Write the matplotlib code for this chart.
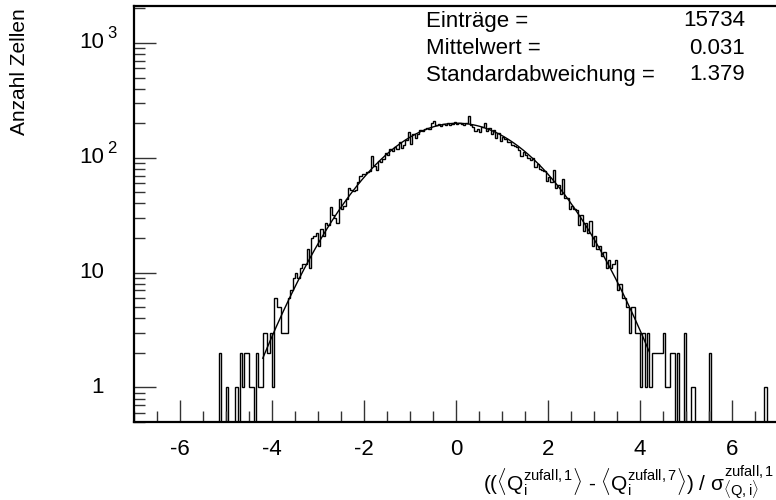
import numpy as np
import matplotlib.pyplot as plt
from matplotlib.ticker import LogLocator, MultipleLocator, NullFormatter
import matplotlib.transforms as mtransforms

plt.rcParams['font.family'] = ['Liberation Sans', 'DejaVu Sans']
plt.rcParams['mathtext.fontset'] = 'custom'
plt.rcParams['mathtext.rm'] = 'Liberation Sans'
plt.rcParams['mathtext.it'] = 'Liberation Sans'
plt.rcParams['mathtext.sf'] = 'Liberation Sans'
plt.rcParams['axes.unicode_minus'] = False

# histogram binning (0.05 wide bins, nothing filled left of -5.25)
bin_width = 0.05
first_edge = -5.25
x_range = (-7.0, 7.0)

# counts, bin by bin
tail_left = [0, 0, 2, 0, 0, 1, 0, 0, 0, 1, 0, 2, 1, 2, 2, 1, 1, 0, 2, 1,
             1, 3, 3, 2, 3, 1, 6, 5, 5, 3, 3, 3, 6]                 # -5.25 .. -3.65
core_left = [7, 9, 10, 9, 11, 12, 12, 16, 11, 20, 21, 22, 17, 24, 21, 27,
             26, 37, 32, 30, 27, 44, 36, 38, 44, 55, 52, 51, 52, 62, 70, 73,
             72, 75, 77, 104, 85, 78, 94, 92, 97, 111, 105, 119, 115, 125, 119, 136,
             122, 130, 143, 167, 132, 160, 150, 162, 175, 170, 178, 182, 180, 203,
             210, 192, 198, 190, 197, 195, 200, 192, 197, 205]          # -3.60 .. -0.05
core_right = [196, 203, 198, 194, 201, 232, 193, 185, 172, 180, 168, 187, 199, 170,
              183, 160, 176, 148, 165, 140, 152, 146, 138, 137, 130, 128, 123, 116,
              104, 112, 105, 100, 96, 100, 84, 88, 80, 78, 76, 63, 68, 61, 78, 55,
              58, 48, 66, 45, 45, 36, 38, 36, 35, 26, 32, 23, 27, 22, 28, 17, 21, 16,
              17, 14, 15, 11, 13, 11, 12, 13, 7, 8, 6, 6, 5, 3, 5, 5, 3, 3]   # 0.00 .. 3.95
tail_right = [1, 3, 1, 3, 1, 2, 2, 2, 2, 2, 3, 1, 1, 2, 2, 0, 2, 0, 0, 3,
              0, 0, 1, 1, 0, 0, 0, 0, 0, 0, 2, 0, 0, 0, 0, 0, 0, 0, 0, 0,
              0, 0, 0, 0, 0, 0, 0, 0, 0, 0, 0, 0, 0, 0, 1, 0, 0, 0, 0, 0]   # 4.00 .. 6.95

# fit parameters (gaussian drawn over the fit range)
fit_const = 200.0
fit_mean = 0.03
fit_sigma = 1.378
fit_range = (-4.2, 4.2)

stats_names = ['Einträge =', 'Mittelwert =', 'Standardabweichung =']
stats_values = ['15734', '0.031', '1.379']

counts = np.array(tail_left + core_left + core_right + tail_right, dtype=float)
edges = first_edge + bin_width * np.arange(len(counts) + 1)

fig = plt.figure(figsize=(7.76, 5.0), dpi=100)
ax = fig.add_axes([134 / 776, 78 / 500, 644 / 776, 416 / 500])

# empty bins drop below the frame like in ROOT
ax.stairs(np.where(counts > 0, counts, 1e-3), edges, baseline=None,
          color='black', lw=1.0)

xf = np.linspace(fit_range[0], fit_range[1], 400)
ax.plot(xf, fit_const * np.exp(-0.5 * ((xf - fit_mean) / fit_sigma) ** 2),
        color='black', lw=1.0)

ax.set_yscale('log')
ax.set_xlim(*x_range)
ax.set_ylim(0.5, 2100)

for side in ['right', 'top', 'left', 'bottom']:
    ax.spines[side].set_linewidth(1.6)

ax.xaxis.set_major_locator(MultipleLocator(2))
ax.xaxis.set_minor_locator(MultipleLocator(0.5))
ax.yaxis.set_major_locator(LogLocator(base=10, numticks=10))
ax.yaxis.set_minor_locator(LogLocator(base=10, subs=np.arange(2, 10), numticks=10))
ax.yaxis.set_major_formatter(NullFormatter())
ax.yaxis.set_minor_formatter(NullFormatter())
ax.tick_params(axis='both', which='both', direction='in', top=False, right=False,
               color='#333333')
ax.tick_params(axis='both', which='major', length=16, width=1.0)
ax.tick_params(axis='both', which='minor', length=8, width=1.0)
ax.tick_params(axis='x', which='major', labelsize=16, pad=12)

# y labels in ROOT style: "10" with a raised exponent
trans = mtransforms.blended_transform_factory(fig.transFigure, ax.transData)
ylab = {1: ('1', ''), 10: ('10', ''), 100: ('10', '2'), 1000: ('10', '3')}
for val, (base, expo) in ylab.items():
    ax.text(104 / 776, val, base, transform=trans, ha='right', va='center',
            fontsize=16)
    if expo:
        ax.text(107 / 776, val * 1.2, expo, transform=trans, ha='left',
                va='center', fontsize=12)

fig.text(20 / 776, 1 - 8 / 500, 'Anzahl Zellen', rotation=90, ha='center',
         va='top', fontsize=15)

xtitle = (r'$((\langle \mathrm{Q}_{\mathrm{i}}^{\mathrm{zufall,1}} \rangle$ - '
          r'$\langle \mathrm{Q}_{\mathrm{i}}^{\mathrm{zufall,7}} \rangle)$ / '
          r'$\sigma_{\langle \mathrm{Q,i} \rangle}^{\mathrm{zufall,1}}$')
fig.text(774 / 776, 1 - 482 / 500, xtitle, ha='right', va='center', fontsize=15)

for i, (name, value) in enumerate(zip(stats_names, stats_values)):
    y = 1 - (21 + 27 * i) / 500
    fig.text(426 / 776, y, name, ha='left', va='center', fontsize=16)
    fig.text(745 / 776, y, value, ha='right', va='center', fontsize=16)

fig.savefig('out.png', dpi=100)
